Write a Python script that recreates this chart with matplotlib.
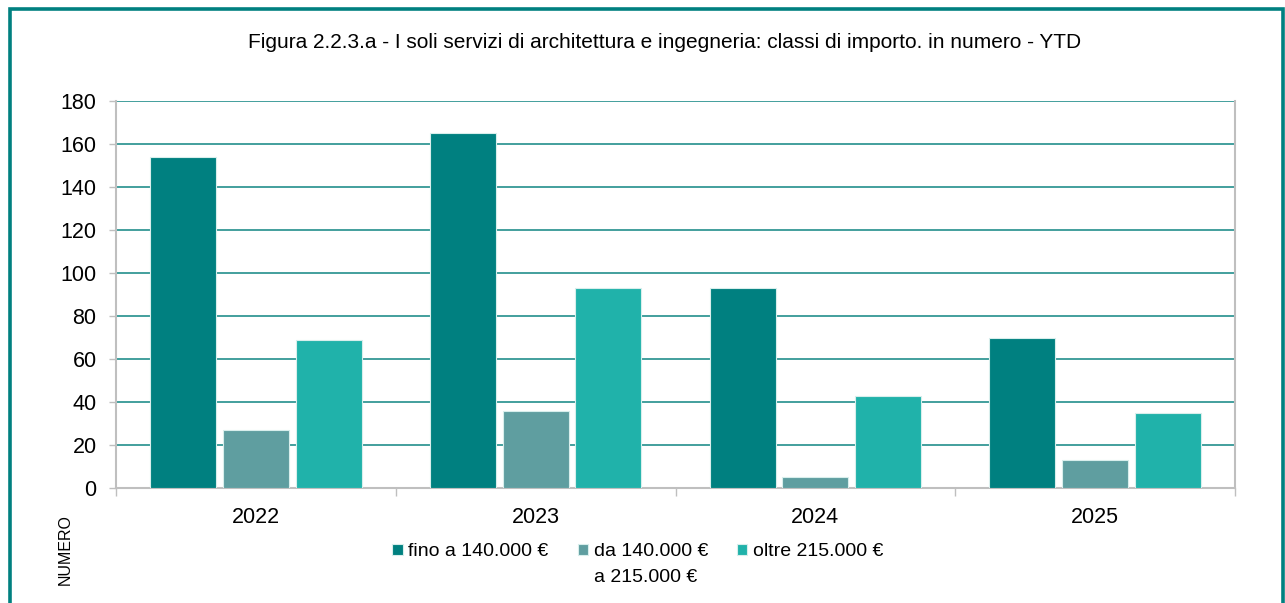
import matplotlib
matplotlib.use("Agg")
import matplotlib.pyplot as plt
from matplotlib.patches import Rectangle
import numpy as np

plt.rcParams['font.family'] = ['Liberation Sans', 'DejaVu Sans']

years = ['2022', '2023', '2024', '2025']
series_labels = ['fino a 140.000 €', 'da 140.000 €', 'oltre 215.000 €']
label_second_line = 'a 215.000 €'  # second line of the middle legend entry
fino_140 = [154, 165, 93, 70]
da_140_a_215 = [27, 36, 5, 13]
oltre_215 = [69, 93, 43, 35]
y_ticks = [0, 20, 40, 60, 80, 100, 120, 140, 160, 180]

colors = ['#008080', '#5F9EA0', '#20B2AA']
title = 'Figura 2.2.3.a - I soli servizi di architettura e ingegneria: classi di importo. in numero - YTD'

fig = plt.figure(figsize=(12.85, 6.03), dpi=100)
ax = fig.add_axes([116 / 1285, 1 - 488 / 603, (1235 - 116) / 1285, (488 - 101) / 603])

x = np.arange(len(years))
width = 0.236
step = 0.26
for i, (vals, lab) in enumerate(zip([fino_140, da_140_a_215, oltre_215], series_labels)):
    ax.bar(x + (i - 1) * step, vals, width, color=colors[i], label=lab,
           edgecolor='#d8eeec', linewidth=0.8, zorder=3)

ax.set_xlim(-0.5, len(years) - 0.5)
ax.set_ylim(0, 180)
ax.set_yticks(y_ticks)
ax.set_xticks(x)
ax.set_xticklabels(years)
ax.set_xticks(np.arange(-0.5, len(years)), minor=True)
ax.tick_params(axis='x', which='major', length=0, pad=14, labelsize=15.5)
ax.tick_params(axis='x', which='minor', length=6, color='#bfbfbf', width=1)
ax.tick_params(axis='y', length=5, color='#bfbfbf', width=1, labelsize=15.5, pad=9)

ax.yaxis.grid(True, color='#238F8C', linewidth=1.2, zorder=0)
ax.set_axisbelow(True)
for s in ['left', 'bottom', 'right']:
    ax.spines[s].set_color('#bfbfbf')
    ax.spines[s].set_linewidth(1.5)
ax.spines['top'].set_visible(False)

fig.text(665 / 1285, 1 - 42 / 603, title, ha='center', va='center', fontsize=15)
fig.text(65 / 1285, 1 - 550 / 603, 'NUMERO', rotation=90, ha='center', va='center', fontsize=11.5)

leg = fig.legend(loc='center', bbox_to_anchor=(638 / 1285, 1 - 552 / 603), ncol=3,
                 frameon=False, fontsize=14, handlelength=0.52, handleheight=0.52,
                 handletextpad=0.3, columnspacing=1.5, borderaxespad=0, borderpad=0)

# second line of the wrapped middle legend label, left aligned under the first
fig.canvas.draw()
bb = leg.get_texts()[1].get_window_extent().transformed(fig.transFigure.inverted())
fig.text(bb.x0, bb.y0 - 25 / 603, label_second_line, ha='left', va='bottom', fontsize=14)

border = Rectangle((9.5 / 1285, -0.1), (1283 - 9.5) / 1285, 1.1 - 9.5 / 603,
                   transform=fig.transFigure, fill=False, edgecolor='#008080',
                   linewidth=2.6, clip_on=False)
fig.patches.append(border)

fig.savefig('out.png', dpi=100)
